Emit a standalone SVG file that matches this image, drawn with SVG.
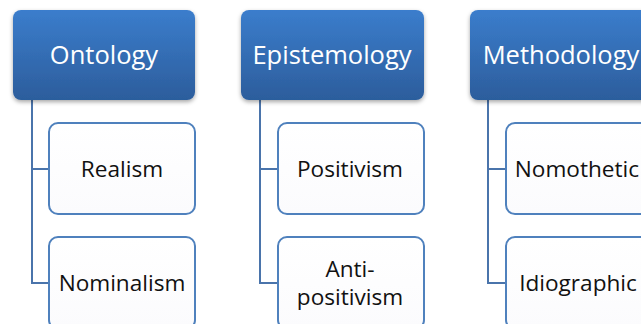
<svg xmlns="http://www.w3.org/2000/svg" width="641" height="324" viewBox="0 0 641 324">
<defs>
<linearGradient id="hg" x1="0" y1="0" x2="0" y2="1">
<stop offset="0" stop-color="#3b7dcc"/>
<stop offset="1" stop-color="#2c5d9c"/>
</linearGradient>
<linearGradient id="cg" x1="0" y1="0" x2="0" y2="1">
<stop offset="0" stop-color="#ffffff"/>
<stop offset="1" stop-color="#fbfbfd"/>
</linearGradient>
<filter id="sh" x="-10%" y="-10%" width="120%" height="130%">
<feDropShadow dx="0" dy="2" stdDeviation="2" flood-color="#000" flood-opacity="0.35"/>
</filter>
</defs>
<style>
.h{fill:url(#hg);filter:url(#sh)}
.c{fill:url(#cg);stroke:#4f81bd;stroke-width:2}
.ht{font-family:"Open Sans","Liberation Sans",sans-serif;font-size:25.5px;fill:#fff;text-anchor:middle}
.ct{font-family:"Open Sans","Liberation Sans",sans-serif;font-size:22.6px;fill:#111;text-anchor:middle}
.ln{fill:none;stroke:#4a74ab;stroke-width:2}
</style>
<rect width="641" height="324" fill="#fff"/>
<g id="connectors">
<path class="ln" d="M32 100V283H49M32 169H49"/>
<path class="ln" d="M260 100V283H278M260 169H278"/>
<path class="ln" d="M488 100V283H506M488 169H506"/>
</g>
<g id="ontology"><rect class="h" x="13" y="10" width="182" height="90" rx="8"/><text class="ht" x="104" y="64">Ontology</text></g>
<g id="realism"><rect class="c" x="49" y="123" width="146" height="91" rx="9"/><text class="ct" x="122" y="177">Realism</text></g>
<g id="nominalism"><rect class="c" x="49" y="237" width="146" height="92" rx="9"/><text class="ct" x="122" y="291">Nominalism</text></g>
<g id="epistemology"><rect class="h" x="241" y="10" width="183" height="90" rx="8"/><text class="ht" x="332" y="64">Epistemology</text></g>
<g id="positivism"><rect class="c" x="278" y="123" width="146" height="91" rx="9"/><text class="ct" x="350" y="177">Positivism</text></g>
<g id="antipositivism"><rect class="c" x="278" y="237" width="146" height="92" rx="9"/><text class="ct" x="350" y="277">Anti-</text><text class="ct" x="350" y="305">positivism</text></g>
<g id="methodology"><rect class="h" x="470" y="10" width="183" height="90" rx="8"/><text class="ht" x="561" y="64">Methodology</text></g>
<g id="nomothetic"><rect class="c" x="506" y="123" width="146" height="91" rx="9"/><text class="ct" x="577" y="177">Nomothetic</text></g>
<g id="idiographic"><rect class="c" x="506" y="237" width="146" height="92" rx="9"/><text class="ct" x="578" y="291">Idiographic</text></g>
</svg>
